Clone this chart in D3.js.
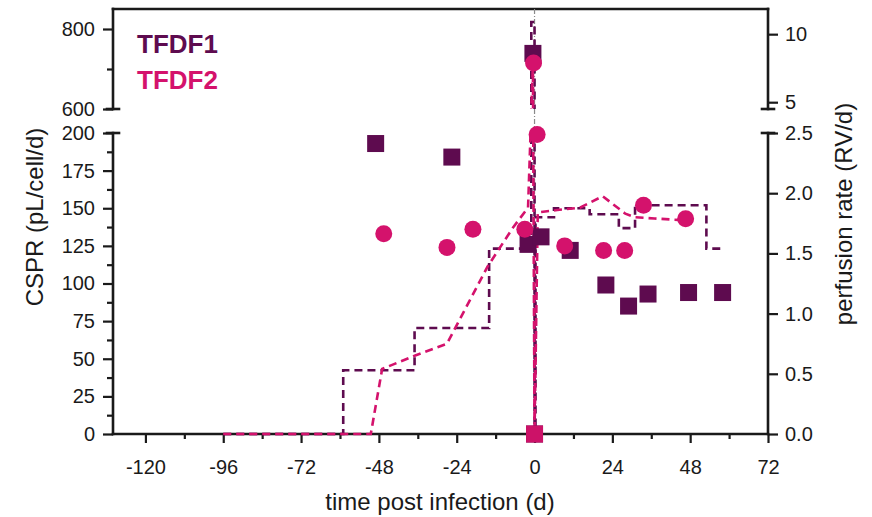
<!DOCTYPE html>
<html>
<head>
<meta charset="utf-8">
<script src="https://cdn.jsdelivr.net/npm/d3@7"></script>
<style>
body { margin: 0; background: #fff; }
text { font-family: Arial, "Liberation Sans", sans-serif; }
</style>
</head>
<body>
<svg id="chart"></svg>
<script>
var WIDTH = 872;
var HEIGHT = 517;
var C1 = "#5e0b4f";   // TFDF1 dark purple
var C2 = "#d4126c";   // TFDF2 pink
var INK = "#1a1a1a";

//tick values
var xTicks = [-120, -96, -72, -48, -24, 0, 24, 48, 72];
var xMinor = [-108, -84, -60, -36, -12, 12, 36, 60];
var csprTicksLow = [0, 25, 50, 75, 100, 125, 150, 175, 200];
var csprMinorLow = [12.5, 37.5, 62.5, 87.5, 112.5, 137.5, 162.5, 187.5];
var csprTicksHigh = [600, 800];
var csprMinorHigh = [700];
var perfTicksLow = [0, 0.5, 1, 1.5, 2, 2.5];
var perfTicksHigh = [5, 10];

//CSPR points (pL/cell/d)
var tfdf1Time = [-49, -25.5, -2, -0.5, 0, 2, 11, 22, 29, 35, 47.5, 58];
var tfdf1Cspr = [193, 184, 126, 739, 0, 131, 122, 99, 85, 93, 94, 94];
var tfdf2Time = [-46.5, -27, -19, -3, -0.3, 0.8, 9.3, 21.3, 27.8, 33.6, 46.6];
var tfdf2Cspr = [133, 124, 136, 136, 715, 199, 125, 122, 122, 152, 143];
var dayZeroTime = [0];
var dayZeroCspr = [0];

//perfusion rate (RV/d)
var tfdf1PerfTime = [-96, -59, -37, -14, -1, 0, 0.3, 6, 17, 26, 31, 53, 58];
var tfdf1Perf = [0, 0.53, 0.88, 1.54, 10.9, 0, 1.8, 1.875, 1.825, 1.71, 1.9, 1.54, 1.54];
var tfdf2PerfTime = [-96, -50.5, -47, -37, -27, -14.5, -6.5, -2, -0.5, 0, 1, 7, 14, 21, 28, 31, 37, 43, 47];
var tfdf2Perf = [0, 0, 0.54, 0.65, 0.75, 1.39, 1.72, 1.88, 7.9, 0, 1.84, 1.86, 1.88, 1.975, 1.83, 1.8, 1.79, 1.78, 1.775];

var svg = d3.select("#chart")
    .attr("width", WIDTH)
    .attr("height", HEIGHT);

var L = 113, R = 768, BOT = 434, LOWTOP = 133, HIGHBOT = 109, TOP = 9;

var x = d3.scaleLinear().domain([-130, 72]).range([L, R]);
var yLow = d3.scaleLinear().domain([0, 200]).range([BOT, LOWTOP]);
var yHigh = d3.scaleLinear().domain([600, 850]).range([HIGHBOT, TOP]);
var pLow = d3.scaleLinear().domain([0, 2.5]).range([BOT, LOWTOP]);
var pHigh = d3.scaleLinear().domain([4.5, 11.85]).range([HIGHBOT, TOP]);

//broken axes: pick the panel by value
function yCspr(v) { return v > 200 ? yHigh(v) : yLow(v); }
function yPerf(v) { return v > 2.5 ? pHigh(v) : pLow(v); }

//plain hyphen minus like the original
function plain(d) { return String(d); }

function styleAxis(g) {
    g.select(".domain").remove();
    g.selectAll("line").attr("stroke", INK).attr("stroke-width", 2.2);
    g.selectAll("text").attr("fill", INK).attr("font-size", 20);
}

//x axis
svg.append("g").attr("transform", "translate(0," + BOT + ")")
    .call(d3.axisBottom(x).tickValues(xTicks).tickSize(9).tickPadding(17).tickFormat(plain))
    .call(styleAxis);
svg.append("g").attr("transform", "translate(0," + BOT + ")")
    .call(d3.axisBottom(x).tickValues(xMinor).tickSize(5).tickFormat(""))
    .call(styleAxis);

//left axes
svg.append("g").attr("transform", "translate(" + L + ",0)")
    .call(d3.axisLeft(yLow).tickValues(csprTicksLow).tickSize(10).tickPadding(8).tickFormat(plain))
    .call(styleAxis);
svg.append("g").attr("transform", "translate(" + L + ",0)")
    .call(d3.axisLeft(yLow).tickValues(csprMinorLow).tickSize(6).tickFormat(""))
    .call(styleAxis);
svg.append("g").attr("transform", "translate(" + L + ",0)")
    .call(d3.axisLeft(yHigh).tickValues(csprTicksHigh).tickSize(10).tickPadding(8).tickFormat(plain))
    .call(styleAxis);
svg.append("g").attr("transform", "translate(" + L + ",0)")
    .call(d3.axisLeft(yHigh).tickValues(csprMinorHigh).tickSize(6).tickFormat(""))
    .call(styleAxis);

//right axes
svg.append("g").attr("transform", "translate(" + R + ",0)")
    .call(d3.axisRight(pLow).tickValues(perfTicksLow).tickSize(10).tickPadding(7).tickFormat(d3.format(".1f")))
    .call(styleAxis);
svg.append("g").attr("transform", "translate(" + R + ",0)")
    .call(d3.axisRight(pHigh).tickValues(perfTicksHigh).tickSize(10).tickPadding(7).tickFormat(plain))
    .call(styleAxis);

//frame lines and break caps
var frame = svg.append("g").attr("stroke", INK).attr("stroke-width", 2.6).attr("stroke-linecap", "square");
[[L, TOP, R, TOP], [L, TOP, L, HIGHBOT], [R, TOP, R, HIGHBOT],
 [L, LOWTOP, L, BOT], [R, LOWTOP, R, BOT], [L, BOT, R, BOT]].forEach(function(s) {
    frame.append("line").attr("x1", s[0]).attr("y1", s[1]).attr("x2", s[2]).attr("y2", s[3]);
});
[[L, HIGHBOT], [L, LOWTOP], [R, HIGHBOT], [R, LOWTOP]].forEach(function(c) {
    frame.append("line").attr("x1", c[0] - 6).attr("x2", c[0] + 6).attr("y1", c[1]).attr("y2", c[1]);
});

//day 0 marker line
svg.append("line")
    .attr("x1", x(0)).attr("x2", x(0))
    .attr("y1", TOP).attr("y2", BOT)
    .attr("stroke", "#8a8a8a").attr("stroke-width", 1.2)
    .attr("stroke-dasharray", "5,2,1,2");

//clip lines to both panels
var clip = svg.append("clipPath").attr("id", "panels");
clip.append("rect").attr("x", L).attr("y", TOP).attr("width", R - L).attr("height", HIGHBOT - TOP);
clip.append("rect").attr("x", L).attr("y", LOWTOP).attr("width", R - L).attr("height", BOT - LOWTOP + 3);

var lines = svg.append("g").attr("clip-path", "url(#panels)");
lines.append("path")
    .datum(d3.zip(tfdf1PerfTime, tfdf1Perf))
    .attr("d", d3.line().x(function(d) { return x(d[0]); }).y(function(d) { return yPerf(d[1]); }).curve(d3.curveStepAfter))
    .attr("fill", "none").attr("stroke", C1).attr("stroke-width", 2.6).attr("stroke-dasharray", "8,5");
lines.append("path")
    .datum(d3.zip(tfdf2PerfTime, tfdf2Perf))
    .attr("d", d3.line().x(function(d) { return x(d[0]); }).y(function(d) { return yPerf(d[1]); }))
    .attr("fill", "none").attr("stroke", C2).attr("stroke-width", 2.6).attr("stroke-dasharray", "8,5");

//TFDF1 squares
var SQ = 17;
svg.append("g").selectAll("rect")
    .data(d3.zip(tfdf1Time, tfdf1Cspr))
    .enter()
    .append("rect")
    .attr("x", function(d) { return x(d[0]) - SQ / 2; })
    .attr("y", function(d) { return yCspr(d[1]) - SQ / 2; })
    .attr("width", SQ).attr("height", SQ)
    .attr("fill", C1);

//TFDF2 circles
svg.append("g").selectAll("circle")
    .data(d3.zip(tfdf2Time, tfdf2Cspr))
    .enter()
    .append("circle")
    .attr("cx", function(d) { return x(d[0]); })
    .attr("cy", function(d) { return yCspr(d[1]); })
    .attr("r", 8.5)
    .attr("fill", C2);

//day 0 point
svg.append("g").selectAll("rect")
    .data(d3.zip(dayZeroTime, dayZeroCspr))
    .enter()
    .append("rect")
    .attr("x", function(d) { return x(d[0]) - SQ / 2; })
    .attr("y", function(d) { return yCspr(d[1]) - SQ / 2; })
    .attr("width", SQ).attr("height", SQ)
    .attr("fill", "#cc1268");

//axis titles
svg.append("text")
    .attr("transform", "translate(43,217) rotate(-90)")
    .attr("text-anchor", "middle").attr("font-size", 24).attr("fill", INK)
    .text("CSPR (pL/cell/d)");
svg.append("text")
    .attr("transform", "translate(852,214) rotate(-90)")
    .attr("text-anchor", "middle").attr("font-size", 24).attr("fill", INK)
    .text("perfusion rate (RV/d)");
svg.append("text")
    .attr("x", 440).attr("y", 510)
    .attr("text-anchor", "middle").attr("font-size", 24).attr("fill", INK)
    .text("time post infection (d)");

//legend
svg.append("text").attr("x", 137).attr("y", 53)
    .attr("font-size", 26).attr("font-weight", "bold").attr("fill", C1).text("TFDF1");
svg.append("text").attr("x", 137).attr("y", 89)
    .attr("font-size", 26).attr("font-weight", "bold").attr("fill", C2).text("TFDF2");
</script>
</body>
</html>
